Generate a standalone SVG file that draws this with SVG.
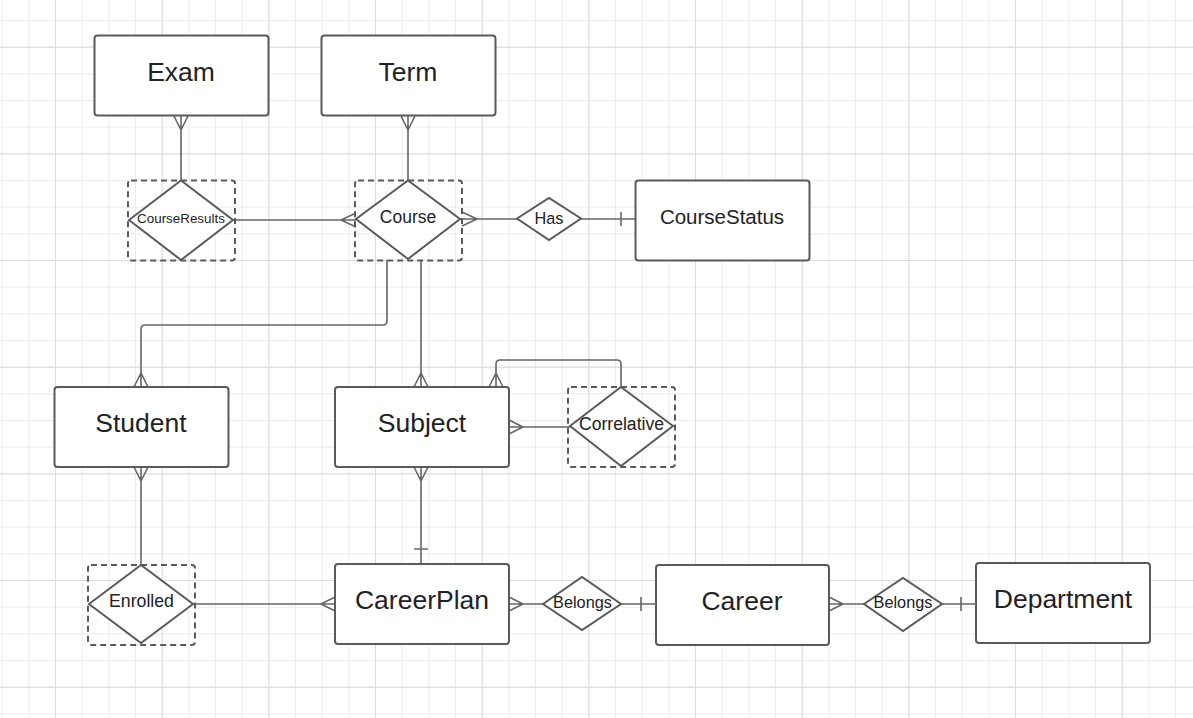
<svg xmlns="http://www.w3.org/2000/svg" width="1193" height="718" viewBox="0 0 1193 718">
<style>
.ent{fill:#fff;stroke:#5a5a5a;stroke-width:2}
.box{fill:none;stroke:#5a5a5a;stroke-width:2;stroke-dasharray:6 4}
.dia{fill:#fff;stroke:#5a5a5a;stroke-width:2}
.ln{fill:none;stroke:#666;stroke-width:1.6}
text{font-family:"Liberation Sans",Arial,sans-serif;fill:#222;text-anchor:middle}
.big{font-size:26.5px}
</style>
<defs>
<pattern id="minor" width="26.667" height="26.667" patternUnits="userSpaceOnUse" x="1.667" y="20">
<path d="M0 0.5H26.667M0.5 0V26.667" fill="none" stroke="#ececec" stroke-width="1"/>
</pattern>
<pattern id="major" width="106.667" height="106.667" patternUnits="userSpaceOnUse" x="55" y="46.667">
<path d="M0 0.5H106.667M0.5 0V106.667" fill="none" stroke="#dcdcdc" stroke-width="1"/>
</pattern>
</defs>
<rect width="1193" height="718" fill="#fff"/>
<rect width="1193" height="718" fill="url(#minor)"/>
<rect width="1193" height="718" fill="url(#major)"/>

<g id="connectors">
<path class="ln" d="M181 116V180M174 116L181 130L188 116"/>
<path class="ln" d="M408 116V180M401 116L408 130L415 116"/>
<path class="ln" d="M233 220H356M356 213L341 220L356 227"/>
<path class="ln" d="M460 219H517M462 212L477 219L462 226"/>
<path class="ln" d="M581 219H635M621 212V226"/>
<path class="ln" d="M387 260V321Q387 325 383 325H145Q141 325 141 329V387M134 387L141 373L148 387"/>
<path class="ln" d="M421 260V387M414 387L421 373L428 387"/>
<path class="ln" d="M621 387V364Q621 360 617 360H500Q496 360 496 364V387M489 387L496 373L503 387"/>
<path class="ln" d="M570 427H509M509 420L523 427L509 434"/>
<path class="ln" d="M141 467V565M134 467L141 481L148 467"/>
<path class="ln" d="M421 467V564M414 467L421 481L428 467M414 549H428"/>
<path class="ln" d="M193 604H335M335 597L321 604L335 611"/>
<path class="ln" d="M509 604H543M509 597L523 604L509 611"/>
<path class="ln" d="M621 604H656M641 597V611"/>
<path class="ln" d="M829 604H864M829 597L843 604L829 611"/>
<path class="ln" d="M942 604H976M961 597V611"/>
</g>

<g id="exam"><rect class="ent" x="94.5" y="35.5" width="174" height="80" rx="3"/><text class="big" x="181" y="80.5">Exam</text></g>
<g id="term"><rect class="ent" x="321.5" y="35.5" width="174" height="80" rx="3"/><text class="big" x="408" y="80.5">Term</text></g>
<g id="coursestatus"><rect class="ent" x="635.5" y="180.5" width="174" height="80" rx="3"/><text x="722" y="224" font-size="20.5">CourseStatus</text></g>
<g id="student"><rect class="ent" x="54.5" y="387" width="174" height="80" rx="3"/><text class="big" x="141" y="432">Student</text></g>
<g id="subject"><rect class="ent" x="335" y="387" width="174" height="80" rx="3"/><text class="big" x="422" y="432">Subject</text></g>
<g id="careerplan"><rect class="ent" x="335" y="564" width="174" height="80" rx="3"/><text class="big" x="422" y="609">CareerPlan</text></g>
<g id="career"><rect class="ent" x="656" y="565" width="173" height="80" rx="3"/><text class="big" x="742" y="610">Career</text></g>
<g id="department"><rect class="ent" x="976" y="563" width="174" height="80" rx="3"/><text class="big" x="1063" y="608">Department</text></g>

<g id="courseresults"><rect class="box" x="128" y="180.5" width="107" height="80" rx="3"/><path class="dia" d="M129 220L181 180.5L233 220L181 260Z"/><text x="181" y="222.5" font-size="13.4">CourseResults</text></g>
<g id="course"><rect class="box" x="355" y="180.5" width="107" height="80" rx="3"/><path class="dia" d="M356 219L408 180.5L460 219L408 259Z"/><text x="408" y="223" font-size="17.5">Course</text></g>
<g id="has"><path class="dia" d="M517 218.5L549 198L581 218.5L549 240Z"/><text x="549" y="224" font-size="16.3">Has</text></g>
<g id="correlative"><rect class="box" x="568" y="387" width="107" height="80" rx="3"/><path class="dia" d="M570 426L621 387L673 426L621 466Z"/><text x="621.5" y="430" font-size="17.6">Correlative</text></g>
<g id="enrolled"><rect class="box" x="88" y="565" width="107" height="80" rx="3"/><path class="dia" d="M89 604L141 565L193 604L141 643Z"/><text x="141.5" y="607" font-size="17.7">Enrolled</text></g>
<g id="belongs1"><path class="dia" d="M543 604L582 577L621 604L582 630Z"/><text x="582.5" y="607.5" font-size="16.3">Belongs</text></g>
<g id="belongs2"><path class="dia" d="M864 604L903 578L942 604L903 631Z"/><text x="903" y="608" font-size="16.3">Belongs</text></g>
</svg>
